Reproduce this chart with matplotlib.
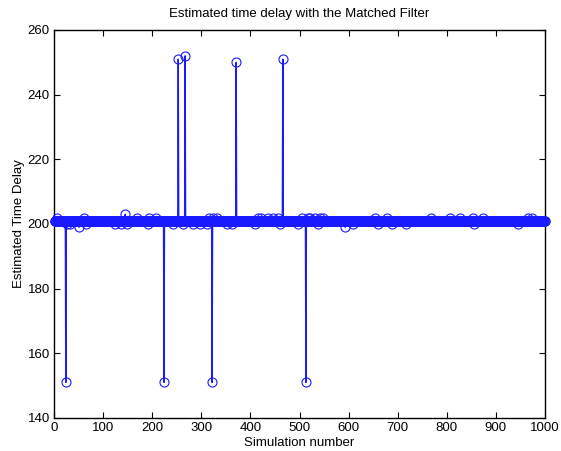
import numpy as np
import matplotlib
matplotlib.use('Agg')
import matplotlib.pyplot as plt

plt.rcParams['font.family'] = ['Liberation Sans', 'DejaVu Sans']

# Simulation runs 1..1000, nominal estimate 201, except the runs listed below
n_sims = 1000
nominal_delay = 201

outlier_runs = [24, 224, 322, 513,
                253, 267, 371, 466]
outlier_vals = [151, 151, 151, 151,
                251, 252, 250, 251]

high_runs = [6, 61, 169, 193, 208, 316, 324, 332, 415, 422, 436, 446, 456,
             505, 517, 521, 532, 542, 548, 654, 678, 768, 806, 827, 853,
             874, 965, 974]
high_vals = [202] * len(high_runs)

peak_runs = [145]
peak_vals = [203]

low_runs = [26, 33, 65, 124, 136, 149, 191, 242, 263, 283, 297, 312, 352,
            363, 409, 460, 497, 538, 609, 660, 688, 717, 855, 945]
low_vals = [200] * len(low_runs)

min_runs = [51, 593]
min_vals = [199, 199]

runs = np.arange(1, n_sims + 1)
delay = np.full(n_sims, nominal_delay, dtype=float)
for r, v in zip(high_runs + peak_runs + low_runs + min_runs + outlier_runs,
                high_vals + peak_vals + low_vals + min_vals + outlier_vals):
    delay[r - 1] = v

fig = plt.figure(figsize=(5.61, 4.51), dpi=100)
ax = fig.add_axes([0.0963, 0.0732, 0.8752, 0.8603])

ax.plot(runs, delay, '-o', color='#1a1aff', lw=1.0, ms=6.5, mfc='none',
        mew=0.8, clip_on=False, zorder=3)

ax.set_xlim(0, 1000)
ax.set_ylim(140, 260)
ax.set_xticks(np.arange(0, 1001, 100))
ax.set_yticks(np.arange(140, 261, 20))
ax.tick_params(direction='in', top=True, right=True, labelsize=9.5,
               length=4, width=0.8, pad=3)
for s in ax.spines.values():
    s.set_linewidth(1.0)

ax.set_title('Estimated time delay with the Matched Filter', fontsize=9.5,
             pad=9)
ax.set_xlabel('Simulation number', fontsize=9.5, labelpad=2)
ax.set_ylabel('Estimated Time Delay', fontsize=9.5, labelpad=2)

plt.savefig('out.png', dpi=100)
plt.close(fig)
